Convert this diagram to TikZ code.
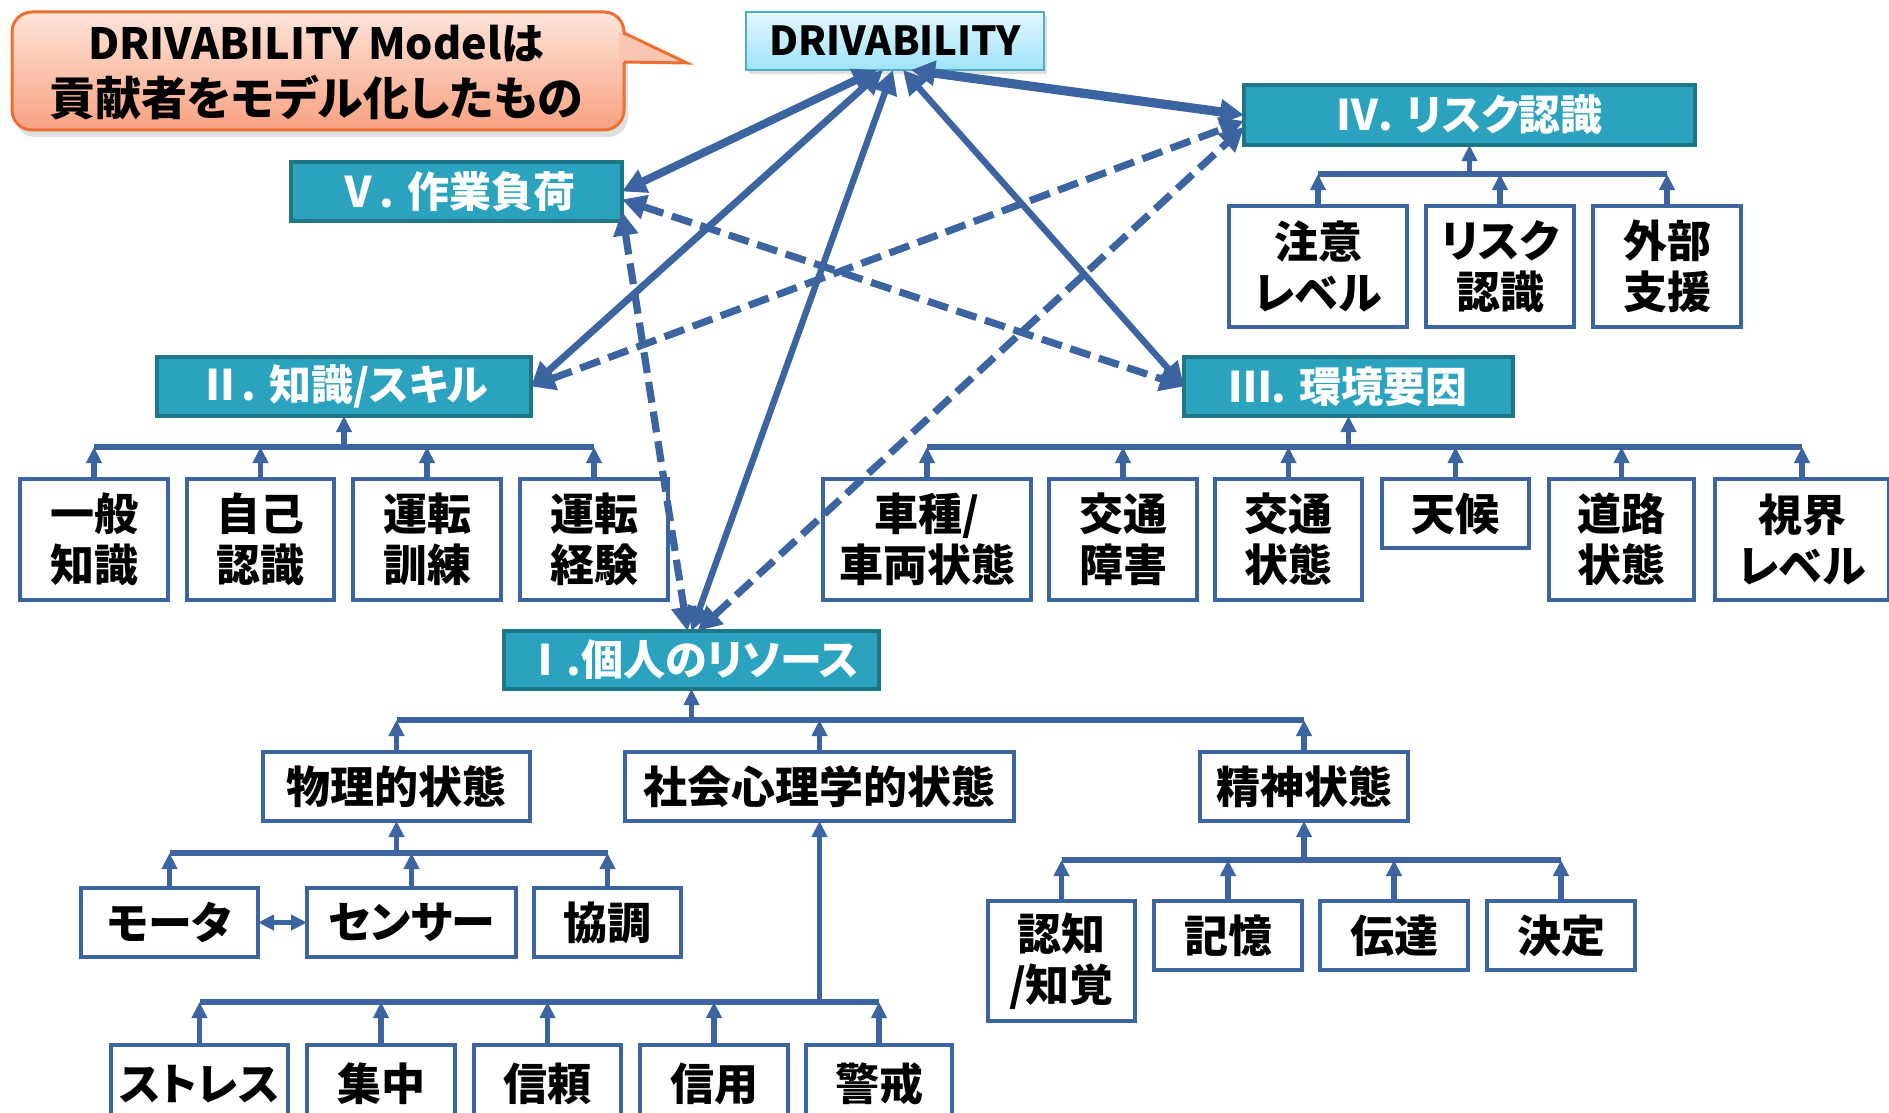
\documentclass[tikz,border=0pt]{standalone}
\usepackage{fontspec}
\setmainfont{Noto Sans CJK JP}[RawFeature=+palt]
\usetikzlibrary{arrows.meta,shadows}
\definecolor{lineblue}{RGB}{59,100,160}
\definecolor{tealfill}{RGB}{44,163,190}
\definecolor{tealdraw}{RGB}{30,118,135}
\definecolor{calltop}{RGB}{253,228,216}
\definecolor{callbot}{RGB}{248,162,130}
\definecolor{calldraw}{RGB}{236,112,50}
\definecolor{drvtop}{RGB}{228,248,254}
\definecolor{drvbot}{RGB}{158,227,250}
\definecolor{drvdraw}{RGB}{80,175,200}
\tikzset{
  wbox/.style={draw=lineblue, line width=2.2pt, fill=white, inner sep=0pt, outer sep=0pt, align=center, font=\bfseries\fontsize{22}{25.5}\selectfont},
  tbox/.style={draw=tealdraw, line width=2.4pt, fill=tealfill, text=white, inner sep=0pt, outer sep=0pt, font=\bfseries\fontsize{21}{25}\selectfont},
  drvbox/.style={draw=drvdraw, line width=1.2pt, top color=drvtop, bottom color=drvbot, inner sep=0pt, outer sep=0pt, font=\bfseries\fontsize{20}{24}\selectfont, drop shadow={opacity=0.25, shadow xshift=1.5pt, shadow yshift=-2pt}},
  tree/.style={draw=lineblue, line width=2.6pt},
  up/.style={tree, -{Triangle[length=8pt,width=7.5pt]}},
  twoway/.style={tree, {Triangle[length=8pt,width=7.5pt]}-{Triangle[length=8pt,width=7.5pt]}},
  link/.style={draw=lineblue, line width=3.2pt, {Triangle[length=12pt,width=12pt]}-{Triangle[length=12pt,width=12pt]}},
  dlink/.style={link, line width=3.6pt, dash pattern=on 10.5pt off 4.5pt},
}
\newcommand\mkbox[7]{\node[#1,minimum width={(#5-#3)*0.5pt-2pt},minimum height={(#6-#4)*0.5pt-2pt}] (#2) at ({(#3+#5)/2},{(#4+#6)/2}) {#7};}
\begin{document}
\begin{tikzpicture}[x=0.5pt,y=-0.5pt]
\useasboundingbox (0,0) rectangle (1889,1113);
\fill[white] (0,0) rectangle (1889,1113);

% callout
\fill[black, opacity=0.12, rounded corners=10pt] (15,18) rectangle (628,137);
\shade[top color=calltop, bottom color=callbot, draw=calldraw, line width=1.5pt, rounded corners=10pt] (12,12) rectangle (624,130);
\fill[calltop!55!callbot] (619,33) -- (687,63) -- (619,62) -- cycle;
\draw[calldraw, line width=1.5pt] (624,33) -- (687,63) -- (624,62);
\node[font=\bfseries\fontsize{23}{28}\selectfont, align=center, inner sep=0pt] (call) at (316,73) {{\fontsize{21.5}{28}\selectfont DRIVABILITY Modelは}\\貢献者をモデル化したもの};

% top box
\mkbox{drvbox}{drv}{744}{10}{1046}{72}{DRIVABILITY}

% category boxes
\mkbox{tbox}{r4}{1242}{83}{1697}{147}{Ⅳ. リスク認識}
\mkbox{tbox}{r5}{289}{160}{624}{223}{Ⅴ. 作業負荷}
\mkbox{tbox}{r2}{155}{355}{533}{418}{Ⅱ. 知識/スキル}
\mkbox{tbox}{r3}{1182}{355}{1515}{418}{Ⅲ. 環境要因}
\mkbox{tbox}{r1}{502}{629}{881}{691}{Ⅰ.個人のリソース}

% IV children
\mkbox{wbox}{a1}{1227}{204}{1409}{329}{注意\\レベル}
\mkbox{wbox}{a2}{1424}{204}{1576}{329}{リスク\\認識}
\mkbox{wbox}{a3}{1591}{204}{1743}{329}{外部\\支援}

% II children
\mkbox{wbox}{k1}{18}{477}{170}{602}{一般\\知識}
\mkbox{wbox}{k2}{185}{477}{336}{602}{自己\\認識}
\mkbox{wbox}{k3}{351}{477}{503}{602}{運転\\訓練}
\mkbox{wbox}{k4}{518}{477}{670}{602}{運転\\経験}

% III children
\mkbox{wbox}{e1}{821}{477}{1033}{602}{車種/\\車両状態}
\mkbox{wbox}{e2}{1047}{477}{1199}{602}{交通\\障害}
\mkbox{wbox}{e3}{1213}{477}{1364}{602}{交通\\状態}
\mkbox{wbox}{e4}{1380}{477}{1531}{550}{天候}
\mkbox{wbox}{e5}{1547}{477}{1696}{602}{道路\\状態}
\mkbox{wbox}{e6}{1713}{477}{1891}{602}{視界\\レベル}

% I children
\mkbox{wbox}{p1}{261}{750}{532}{823}{物理的状態}
\mkbox{wbox}{p2}{623}{750}{1016}{823}{社会心理学的状態}
\mkbox{wbox}{p3}{1198}{750}{1410}{823}{精神状態}

% physical children
\mkbox{wbox}{m1}{79}{886}{260}{959}{モータ}
\mkbox{wbox}{m2}{305}{886}{518}{959}{センサー}
\mkbox{wbox}{m3}{532}{886}{683}{959}{協調}

% socio-psychological children
\mkbox{wbox}{s1}{109}{1043}{290}{1125}{ストレス}
\mkbox{wbox}{s2}{305}{1043}{457}{1125}{集中}
\mkbox{wbox}{s3}{472}{1043}{623}{1125}{信頼}
\mkbox{wbox}{s4}{638}{1043}{790}{1125}{信用}
\mkbox{wbox}{s5}{804}{1043}{954}{1125}{警戒}

% mental children
\mkbox{wbox}{c1}{986}{899}{1137}{1023}{認知\\/知覚}
\mkbox{wbox}{c2}{1152}{899}{1304}{972}{記憶}
\mkbox{wbox}{c3}{1318}{899}{1470}{972}{伝達}
\mkbox{wbox}{c4}{1485}{899}{1637}{972}{決定}

% bus levels
\coordinate (bIV) at (0,174);
\coordinate (bII) at (0,447);
\coordinate (bIII) at (0,447);
\coordinate (bI) at (0,720);
\coordinate (bP) at (0,853);
\coordinate (bM) at (0,860);
\coordinate (bS) at (0,1002);

% IV tree
\draw[tree] (a1.north |- bIV) -- (a3.north |- bIV);
\draw[up] (r4.south |- bIV) -- (r4.south);
\foreach \n in {a1,a2,a3} \draw[up] (\n.north) -- (\n.north |- bIV);

% II tree
\draw[tree] (k1.north |- bII) -- (k4.north |- bII);
\draw[up] (r2.south |- bII) -- (r2.south);
\foreach \n in {k1,k2,k3,k4} \draw[up] (\n.north) -- (\n.north |- bII);

% III tree
\draw[tree] (e1.north |- bIII) -- (e6.north |- bIII);
\draw[up] (r3.south |- bIII) -- (r3.south);
\foreach \n in {e1,e2,e3,e4,e5,e6} \draw[up] (\n.north) -- (\n.north |- bIII);

% I tree
\draw[tree] (p1.north |- bI) -- (p3.north |- bI);
\draw[up] (r1.south |- bI) -- (r1.south);
\foreach \n in {p1,p2,p3} \draw[up] (\n.north) -- (\n.north |- bI);

% physical tree
\draw[tree] (m1.north |- bP) -- (m3.north |- bP);
\draw[up] (p1.south |- bP) -- (p1.south);
\foreach \n in {m1,m2,m3} \draw[up] (\n.north) -- (\n.north |- bP);
\draw[twoway] (m1.east) -- (m2.west);

% socio-psychological tree
\draw[tree] (s1.north |- bS) -- (s5.north |- bS);
\draw[up] (p2.south |- bS) -- (p2.south);
\foreach \n in {s1,s2,s3,s4,s5} \draw[up] (\n.north) -- (\n.north |- bS);

% mental tree
\draw[tree] (c1.north |- bM) -- (c4.north |- bM);
\draw[up] (p3.south |- bM) -- (p3.south);
\foreach \n in {c1,c2,c3,c4} \draw[up] (\n.north) -- (\n.north |- bM);

% cross links
\draw[dlink] ([yshift=-4pt]r5.east) -- (r3.west);
\draw[dlink] (r2.east) -- ([yshift=-3pt]r4.west);
\draw[dlink] ([xshift=3pt]r1.north) -- ([yshift=-6pt]r4.west);
\draw[dlink] ([yshift=-10pt]r5.east) -- ([xshift=-2pt]r1.north);
\draw[link, line width=4pt] ([xshift=-9pt]drv.south) -- (r5.east);
\draw[link, line width=3.5pt] ([xshift=-6pt]drv.south) -- (r2.east);
\draw[link] ([xshift=-1pt]drv.south) -- (r1.north);
\draw[link] ([xshift=4pt]drv.south) -- (r3.west);
\draw[link, line width=4.6pt] ([xshift=8pt]drv.south) -- (r4.west);
\end{tikzpicture}
\end{document}
